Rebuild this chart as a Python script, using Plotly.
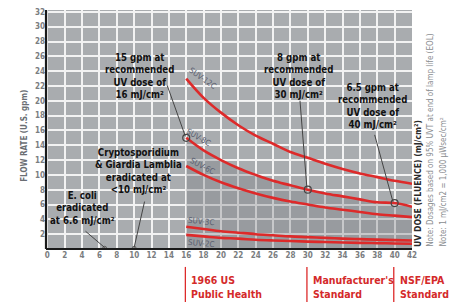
import plotly.graph_objects as go

dose = [16, 18, 20, 22, 24, 26, 28, 30, 32, 34, 36, 38, 40, 42]
suv12 = [23.0, 20.4, 18.4, 16.7, 15.3, 14.2, 13.1, 12.3, 11.5, 10.8, 10.2, 9.7, 9.2, 8.8]
suv8 = [15.0, 13.3, 12.0, 10.9, 10.0, 9.2, 8.6, 8.0, 7.5, 7.1, 6.7, 6.3, 6.2, 5.7]
suv6 = [11.2, 10.0, 9.0, 8.2, 7.5, 6.9, 6.4, 6.0, 5.6, 5.3, 5.0, 4.7, 4.5, 4.3]
suv3 = [3.0, 2.7, 2.4, 2.2, 2.0, 1.85, 1.7, 1.6, 1.5, 1.4, 1.33, 1.26, 1.2, 1.14]
suv2 = [1.9, 1.7, 1.5, 1.4, 1.25, 1.15, 1.07, 1.0, 0.94, 0.88, 0.83, 0.79, 0.75, 0.71]
series = [("SUV-12C", suv12), ("SUV-8C", suv8), ("SUV-6C", suv6), ("SUV-3C", suv3), ("SUV-2C", suv2)]

x_ticks = list(range(0, 43, 2))
y_ticks = list(range(2, 33, 2))

RED = "#dd2a2a"
FONT = "DejaVu Sans Condensed, Liberation Sans, sans-serif"

fig = go.Figure()

# darker shaded zone below the SUV-8C curve
fig.add_trace(go.Scatter(x=dose, y=[0] * len(dose), mode="lines", line=dict(width=0),
                         showlegend=False, hoverinfo="skip"))
fig.add_trace(go.Scatter(x=dose, y=suv8, mode="lines", line=dict(width=0), fill="tonexty",
                         fillcolor="rgba(120,124,128,0.35)", showlegend=False, hoverinfo="skip"))

for name, vals in series:
    fig.add_trace(go.Scatter(x=dose, y=vals, mode="lines", line=dict(color=RED, width=2.6, shape="spline"),
                             name=name, showlegend=False))

# highlighted points
pt_x = [16, 30, 40]
pt_y = [suv8[0], suv8[7], suv8[12]]
fig.add_trace(go.Scatter(x=pt_x, y=pt_y, mode="markers",
                         marker=dict(size=7, color="rgba(0,0,0,0)", line=dict(color="#444", width=1.2)),
                         showlegend=False))
fig.add_trace(go.Scatter(x=[6.6, 10], y=[0.1, 0.1], mode="markers",
                         marker=dict(size=4, color="#999", line=dict(color="#555", width=0.8)),
                         showlegend=False))

# curve labels
label_pos = [(17.9, 23.0, 35), (17.4, 15.0, 30), (17.9, 11.1, 28), (17.7, 3.7, 6), (17.8, 0.75, 5)]
for (name, _), (lx, ly, ang) in zip(series, label_pos):
    fig.add_annotation(x=lx, y=ly, text=name, showarrow=False, textangle=ang,
                       font=dict(family=FONT, size=8, color="#5a5f70"))

def callout(text, tx, ty, lx0, ly0, lx1, ly1, size=9.6):
    fig.add_annotation(x=tx, y=ty, text=text, showarrow=False, align="center",
                       font=dict(family=FONT, size=size, color="#111"))
    fig.add_shape(type="line", x0=lx0, y0=ly0, x1=lx1, y1=ly1, line=dict(color="#444", width=1))

callout("<b>15 gpm at<br>recommended<br>UV dose of<br>16 mJ/cm²</b>", 10.6, 23.3, 13.8, 22.1, 15.9, 15.2)
callout("<b>8 gpm at<br>recommended<br>UV dose of<br>30 mJ/cm²</b>", 28.9, 23.3, 29.1, 20.0, 29.9, 8.2)
callout("<b>6.5 gpm at<br>recommended<br>UV dose of<br>40 mJ/cm²</b>", 37.5, 19.3, 37.7, 15.4, 39.8, 6.4)
callout("<b>Cryptosporidium<br>&amp; Giardia Lamblia<br>eradicated at<br>&lt;10 mJ/cm²</b>", 10.5, 10.5, 11.2, 6.4, 10.0, 0.2)
callout("<b>E. coli<br>eradicated<br>at 6.6 mJ/cm²</b>", 4.0, 5.6, 4.4, 2.4, 6.6, 0.2)

# standards below the axis
for sx, txt in [(16, "1966 US<br>Public Health"), (30, "Manufacturer's<br>Standard"), (40, "NSF/EPA<br>Standard")]:
    fig.add_shape(type="line", xref="x", yref="paper", x0=sx - 0.1, x1=sx - 0.1, y0=-0.075, y1=-0.23,
                  line=dict(color=RED, width=1.3))
    fig.add_annotation(xref="x", yref="paper", x=sx + 0.35, y=-0.098, xanchor="left", yanchor="top",
                       text="<b>" + txt + "</b>", showarrow=False, align="left",
                       font=dict(family=FONT, size=10.5, color="#d42a2a"))

# axis titles / notes
fig.add_annotation(xref="paper", yref="paper", x=-0.077, y=0.475, text="<b>FLOW RATE (U.S. gpm)</b>",
                   textangle=-90, showarrow=False, font=dict(family=FONT, size=8, color="#6a6e73"))
fig.add_annotation(xref="paper", yref="paper", x=1.015, y=0.0, xanchor="center", yanchor="bottom",
                   text="<b>UV DOSE (FLUENCE) (mJ/cm²)</b>", textangle=-90, showarrow=False,
                   font=dict(family=FONT, size=8.6, color="#2a2a2a"))
fig.add_annotation(xref="paper", yref="paper", x=1.05, y=0.0, xanchor="center", yanchor="bottom",
                   text="Note: Dosages based on 95% UVT at end of lamp life (EOL)", textangle=-90,
                   showarrow=False, font=dict(family=FONT, size=8, color="#8a8d90"))
fig.add_annotation(xref="paper", yref="paper", x=1.085, y=0.0, xanchor="center", yanchor="bottom",
                   text="Note: 1 mJ/cm2 = 1,000 µWsec/cm²", textangle=-90,
                   showarrow=False, font=dict(family=FONT, size=8, color="#8a8d90"))

# page body has an 8px margin, so the figure is sized/offset to compensate
fig.update_layout(
    width=452, height=294,
    margin=dict(l=38, r=48, t=0, b=53),
    paper_bgcolor="#ffffff",
    plot_bgcolor="#a9acaf",
    showlegend=False,
)
fig.update_xaxes(range=[-0.15, 42], tickvals=x_ticks, ticktext=[str(v) for v in x_ticks],
                 showgrid=True, gridcolor="#f2f2f2", gridwidth=1.5, zeroline=False,
                 showline=False, ticks="", ticklabeloverflow="allow",
                 tickfont=dict(family=FONT, size=8, color="#7a7d80", weight="bold"))
fig.update_yaxes(range=[0, 32.25], tickvals=y_ticks, ticktext=[str(v) for v in y_ticks],
                 showgrid=True, gridcolor="#f2f2f2", gridwidth=1.5, zeroline=False,
                 showline=False, ticks="", ticklabeloverflow="allow",
                 tickfont=dict(family=FONT, size=8, color="#7a7d80", weight="bold"))

fig.add_shape(type="line", xref="paper", yref="paper", x0=0, x1=0, y0=0, y1=1,
              line=dict(color="#1a1a1a", width=2.2))
fig.add_shape(type="line", xref="paper", yref="paper", x0=0, x1=1, y0=0, y1=0,
              line=dict(color="#1a1a1a", width=2.2))

fig.write_html("out.html")
